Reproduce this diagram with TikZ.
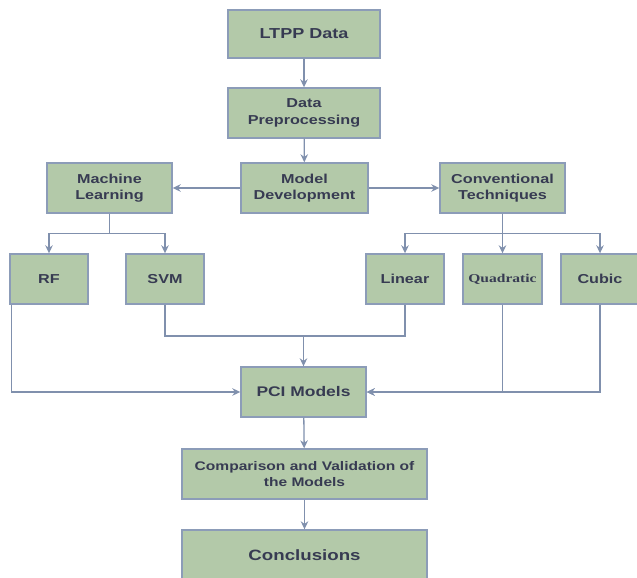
\documentclass[tikz,border=0pt]{standalone}
\usepackage{fontspec}
\newfontfamily\boxfont[FakeStretch=1.25]{Liberation Sans}
\newfontfamily\quadfont[FakeStretch=1.3]{Liberation Serif}
\usetikzlibrary{arrows.meta}
\definecolor{boxgreen}{RGB}{179,201,169}
\definecolor{boxline}{RGB}{140,156,184}
\definecolor{linkline}{RGB}{128,144,173}
\definecolor{boxtext}{RGB}{55,59,82}
\tikzset{
	>={Stealth[length=8bp,width=7.5bp]}, % small filled arrow heads
	block/.style={draw=boxline, line width=1.4bp, fill=boxgreen, text=boxtext,
		inner sep=0pt, align=center, minimum height=50bp,
		font=\boxfont\bfseries\fontsize{13}{16.5}\selectfont}, % every green box
	link/.style={draw=linkline, line width=1.3bp}, % the connectors
}

\begin{document}
\begin{tikzpicture}[x=1bp, y=-1bp]
	\useasboundingbox (0,0) rectangle (637,578);
	% main column, top part
	\node[block, minimum width=152bp, minimum height=48bp, font=\boxfont\bfseries\fontsize{14.5}{17}\selectfont] (ltpp) at (304,34) {LTPP Data};
	\node[block, minimum width=152bp] (prep) at (304,113) {Data\\Preprocessing};
	\node[block, minimum width=127bp] (model) at (304.5,188) {Model\\Development};
	\draw[link, ->] (ltpp) -- (prep);
	\draw[link, ->] (prep) -- (model);
	%% the two families of methods
	\node[block, minimum width=125bp] (ml) at (109.5,188) {Machine\\Learning};
	\node[block, minimum width=125bp] (conv) at (502.5,188) {Conventional\\Techniques};
	\draw[link, ->] (model) -- (ml);
	\draw[link, ->] (model) -- (conv);
	%% the single models
	\node[block, minimum width=78bp] (rf) at (49,279) {RF};
	\node[block, minimum width=78bp] (svm) at (165,279) {SVM};
	\node[block, minimum width=78bp] (linear) at (405,279) {Linear};
	\node[block, minimum width=79bp, font=\quadfont\bfseries\fontsize{12}{14}\selectfont] (quad) at (502.5,279) {Quadratic};
	\node[block, minimum width=78bp] (cubic) at (600,279) {Cubic};
	\draw[link, ->] (ml.south) -- ++(0,20) -| (rf.north);
	\draw[link, ->] (ml.south) -- ++(0,20) -| (svm.north);
	\draw[link, ->] (conv.south) -- ++(0,20) -| (linear.north);
	\draw[link, ->] (conv.south) -- (quad.north);
	\draw[link, ->] (conv.south) -- ++(0,20) -| (cubic.north);
	%% everything goes into the PCI models
	\node[block, minimum width=125bp, font=\boxfont\bfseries\fontsize{14}{16}\selectfont] (pci) at (303.5,392) {PCI Models};
	\coordinate (merge) at (303.5,336);
	\draw[link] (svm.south) |- (merge) -| (linear.south);
	\draw[link, ->] (merge) -- (pci.north);
	\draw[link, ->] ([xshift=2bp]rf.south west) |- (pci.west);
	\draw[link, ->] (quad.south) |- (pci.east);
	\draw[link, ->] (cubic.south) |- (pci.east);
	%% last steps
	\node[block, minimum width=245bp, font=\boxfont\bfseries\fontsize{12.5}{16}\selectfont] (comp) at (304.5,474) {Comparison and Validation of\\the Models};
	\node[block, minimum width=245bp, font=\boxfont\bfseries\fontsize{15}{17}\selectfont] (concl) at (304.5,555) {Conclusions};
	\draw[link, ->] (pci) -- (comp);
	\draw[link, ->] (comp) -- (concl);
\end{tikzpicture}
\end{document}
